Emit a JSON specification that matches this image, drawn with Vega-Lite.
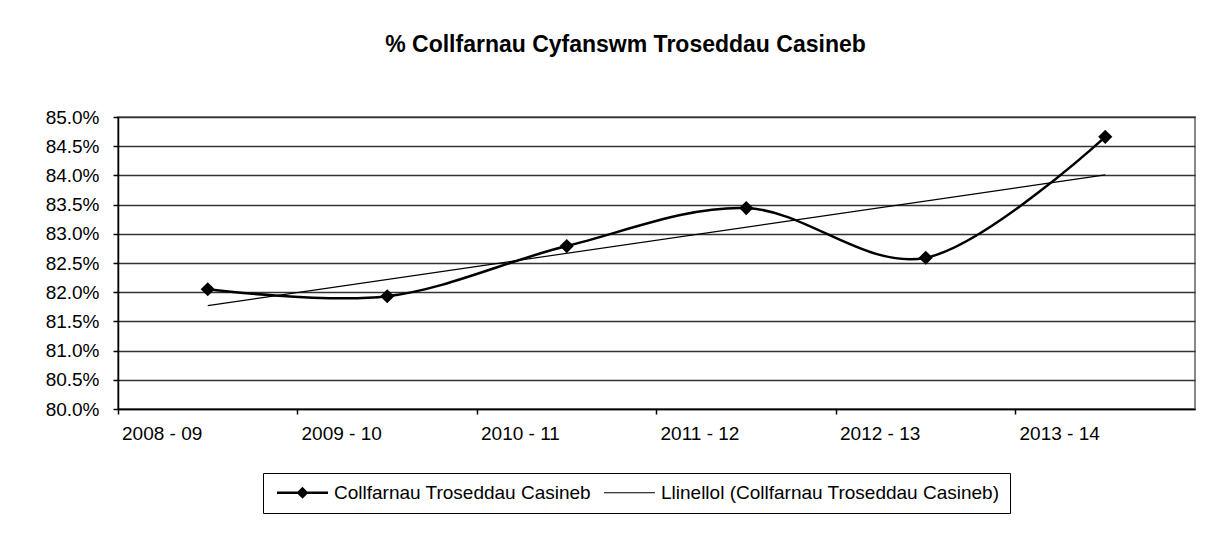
{
  "$schema": "https://vega.github.io/schema/vega-lite/v6.json",
  "width": 1077,
  "height": 292,
  "autosize": {"type": "none"},
  "padding": {"left": 118, "top": 117, "right": 26, "bottom": 126},
  "background": "white",
  "title": {
    "text": "% Collfarnau Cyfanswm Troseddau Casineb",
    "fontSize": 23,
    "fontWeight": "bold",
    "font": "Liberation Sans",
    "color": "black",
    "anchor": "middle",
    "dx": -31,
    "offset": 51
  },
  "data": {
    "values": [
      {"year": "2008 - 09", "series": "Collfarnau Troseddau Casineb", "value": 0.8205},
      {"year": "2009 - 10", "series": "Collfarnau Troseddau Casineb", "value": 0.8193},
      {"year": "2010 - 11", "series": "Collfarnau Troseddau Casineb", "value": 0.8279},
      {"year": "2011 - 12", "series": "Collfarnau Troseddau Casineb", "value": 0.8344},
      {"year": "2012 - 13", "series": "Collfarnau Troseddau Casineb", "value": 0.8259},
      {"year": "2013 - 14", "series": "Collfarnau Troseddau Casineb", "value": 0.8466},
      {"year": "2008 - 09", "series": "Llinellol (Collfarnau Troseddau Casineb)", "value": 0.8177},
      {"year": "2013 - 14", "series": "Llinellol (Collfarnau Troseddau Casineb)", "value": 0.8401}
    ]
  },
  "encoding": {
    "x": {
      "field": "year",
      "type": "ordinal",
      "sort": ["2008 - 09", "2009 - 10", "2010 - 11", "2011 - 12", "2012 - 13", "2013 - 14"],
      "scale": {"type": "band", "paddingInner": 0, "paddingOuter": 0},
      "axis": {
        "title": null,
        "bandPosition": 0,
        "labelAlign": "left",
        "labelAngle": 0,
        "labelBaseline": "top",
        "labelPadding": 10,
        "labelOffset": -85.75,
        "labelFontSize": 19,
        "labelFont": "Liberation Sans",
        "labelColor": "black",
        "labelFlush": false,
        "labelOverlap": false,
        "labelBound": false,
        "domainColor": "black",
        "domainWidth": 1.5,
        "tickColor": "black",
        "tickWidth": 1.5,
        "tickSize": 5,
        "grid": false
      }
    },
    "y": {
      "field": "value",
      "type": "quantitative",
      "scale": {"domain": [0.8, 0.85], "nice": false, "zero": false},
      "axis": {
        "title": null,
        "values": [0.8, 0.805, 0.81, 0.815, 0.82, 0.825, 0.83, 0.835, 0.84, 0.845, 0.85],
        "format": ".1%",
        "labelFontSize": 19,
        "labelFont": "Liberation Sans",
        "labelColor": "black",
        "labelPadding": 14,
        "tickSize": 5,
        "tickColor": "black",
        "tickWidth": 1.5,
        "domainColor": "black",
        "domainWidth": 1.5,
        "grid": true,
        "gridColor": "#333333",
        "gridWidth": 1.3,
        "gridOpacity": 1
      }
    },
    "color": {
      "field": "series",
      "type": "nominal",
      "scale": {
        "domain": ["Collfarnau Troseddau Casineb", "Llinellol (Collfarnau Troseddau Casineb)"],
        "range": ["black", "black"]
      },
      "legend": {
        "title": null,
        "orient": "none",
        "legendX": 145,
        "legendY": 356,
        "direction": "horizontal",
        "columns": 2,
        "columnPadding": 8,
        "strokeColor": "black",
        "padding": 10,
        "labelFontSize": 19,
        "labelFont": "Liberation Sans",
        "labelColor": "black",
        "labelLimit": 600,
        "symbolSize": 196,
        "symbolOffset": 20,
        "labelOffset": 22,
        "encode": {
          "symbols": {
            "update": {
              "shape": {"signal": "datum.value === 'Collfarnau Troseddau Casineb' ? 'M-3.64,0L3.64,0M0,-0.6L0.6,0L0,0.6L-0.6,0Z' : 'M-3.64,0L3.64,0'"},
              "strokeWidth": {"signal": "datum.value === 'Collfarnau Troseddau Casineb' ? 2.5 : 1"},
              "fill": {"value": "black"},
              "stroke": {"value": "black"},
              "opacity": {"value": 1},
              "fillOpacity": {"value": 1},
              "strokeOpacity": {"value": 1}
            }
          }
        }
      }
    }
  },
  "layer": [
    {
      "transform": [{"filter": "datum.series === 'Collfarnau Troseddau Casineb'"}],
      "mark": {"type": "line", "interpolate": "cardinal", "strokeWidth": 2.5}
    },
    {
      "transform": [{"filter": "datum.series === 'Collfarnau Troseddau Casineb'"}],
      "mark": {"type": "point", "shape": "diamond", "filled": true, "size": 200, "opacity": 1},
      "encoding": {"color": {"value": "black"}}
    },
    {
      "transform": [{"filter": "datum.series !== 'Collfarnau Troseddau Casineb'"}],
      "mark": {"type": "line", "strokeWidth": 1.2}
    }
  ],
  "config": {
    "view": {"stroke": "#888888", "strokeWidth": 2},
    "font": "Liberation Sans"
  }
}
